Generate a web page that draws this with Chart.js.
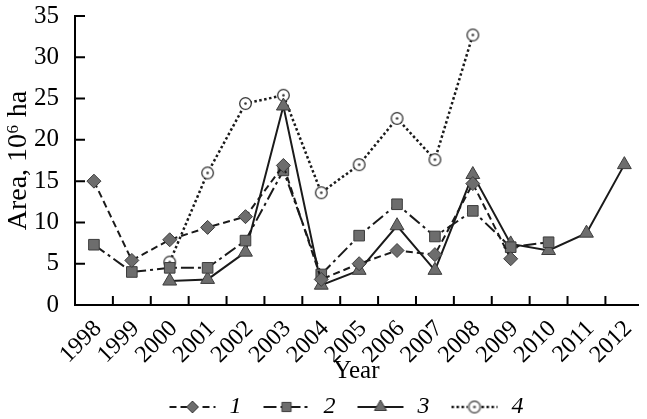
<!DOCTYPE html>
<html lang="en">
<head>
<meta charset="UTF-8">
<title>Area by year</title>
<script src="https://cdn.jsdelivr.net/npm/chart.js"></script>
<style>
  html, body { margin: 0; padding: 0; background: #fff; }
  #wrap { width: 647px; height: 419px; }
</style>
</head>
<body>
<div id="wrap"><canvas id="areaChart" width="647" height="419"></canvas></div>
<script>
// values (null = no value that year)
const years   = [1998, 1999, 2000, 2001, 2002, 2003, 2004, 2005, 2006, 2007, 2008, 2009, 2010, 2011, 2012];
const series1 = [15.0, 5.4, 7.9, 9.4, 10.7, 16.9, 3.1, 5.0, 6.6, 6.1, 14.7, 5.6, null, null, null];
const series2 = [7.3, 4.0, 4.5, 4.5, 7.8, 16.3, 3.7, 8.4, 12.2, 8.3, 11.4, 7.0, 7.6, null, null];
const series3 = [null, null, 2.9, 3.1, 6.4, 24.1, 2.4, 4.2, 9.6, 4.2, 15.8, 7.4, 6.6, 8.7, 17.0];
const series4 = [null, null, 5.2, 16.0, 24.4, 25.4, 13.6, 17.0, 22.6, 17.6, 32.7, null, null, null, null];
const seriesNames = ['1', '2', '3', '4'];
const yTicks = [0, 5, 10, 15, 20, 25, 30, 35];

const FONT = "'Liberation Serif', 'Times New Roman', serif";
const LINE = '#1a1a1a';
const FILL = '#6d6d6d';
const EDGE = '#3c3c3c';

function toPoints(values) {
    return years.map((yr, i) => ({ x: yr, y: values[i] })).filter(p => p.y !== null);
}

// circle with a dot in the middle, used for series 4
function ringMarker() {
    const c = document.createElement('canvas');
    c.width = 15; c.height = 15;
    const g = c.getContext('2d');
    g.fillStyle = '#fff';
    g.strokeStyle = '#333';
    g.lineWidth = 1.3;
    g.beginPath(); g.arc(7.5, 7.5, 5.8, 0, Math.PI * 2); g.fill(); g.stroke();
    g.fillStyle = '#333';
    g.beginPath(); g.arc(7.5, 7.5, 1.3, 0, Math.PI * 2); g.fill();
    return c;
}
const ring = ringMarker();

const styles = [
    { dash: [7, 4], width: 2, point: 'rectRot', radius: 7 },
    { dash: [13, 4, 3, 4], width: 2, point: 'rect', radius: 7.5 },
    { dash: [], width: 2, point: 'triangle', radius: 8 },
    { dash: [2.5, 2.5], width: 2.5, point: ring, radius: 6 }
];

// line + marker swatch for the legend (blank strip on the left spaces the items)
const SWATCH_W = 66, SWATCH_GAP = 18;
function legendSwatch(st) {
    const c = document.createElement('canvas');
    c.width = SWATCH_W; c.height = 18;
    const g = c.getContext('2d');
    const x0 = SWATCH_GAP, x1 = SWATCH_W - 2, mid = (x0 + x1) / 2;
    g.strokeStyle = LINE;
    g.lineWidth = st.width;
    g.setLineDash(st.dash);
    g.beginPath(); g.moveTo(x0, 9); g.lineTo(x1, 9); g.stroke();
    g.setLineDash([]);
    if (st.point === ring) {
        g.clearRect(mid - 7, 1, 14, 16);
        g.drawImage(ring, mid - 7.5, 1.5);
    } else {
        g.fillStyle = FILL;
        g.strokeStyle = EDGE;
        g.lineWidth = 1;
        Chart.helpers.drawPoint(g, { pointStyle: st.point, radius: st.radius - 1, borderWidth: 1, rotation: 0 }, mid, 9);
    }
    return c;
}

const allSeries = [series1, series2, series3, series4];
const datasets = allSeries.map((vals, i) => ({
    label: seriesNames[i],
    data: toPoints(vals),
    borderColor: LINE,
    borderWidth: styles[i].width,
    borderDash: styles[i].dash,
    borderCapStyle: 'butt',
    backgroundColor: FILL,
    pointStyle: styles[i].point,
    pointRadius: styles[i].radius,
    pointBackgroundColor: FILL,
    pointBorderColor: EDGE,
    pointBorderWidth: 1,
    tension: 0,
    fill: false
}));

// tick marks point inward from both axes
const innerTicks = {
    id: 'innerTicks',
    afterDraw(chart) {
        const { ctx, chartArea, scales: { x, y } } = chart;
        ctx.save();
        ctx.strokeStyle = '#000';
        ctx.lineWidth = 2;
        ctx.beginPath();
        years.forEach(yr => {
            const px = x.getPixelForValue(yr + 0.5);
            if (px > chartArea.right) return;
            ctx.moveTo(px, chartArea.bottom);
            ctx.lineTo(px, chartArea.bottom - 9);
        });
        yTicks.forEach(v => {
            if (v === 0) return;
            const py = y.getPixelForValue(v);
            ctx.moveTo(chartArea.left, py);
            ctx.lineTo(chartArea.left + 10, py);
        });
        ctx.stroke();
        ctx.restore();
    }
};

// the legend in the figure sits a bit right of the page centre
const legendShift = {
    id: 'legendShift',
    afterLayout(chart) {
        chart.legend.left += 14;
        chart.legend.right += 14;
    }
};

Chart.defaults.color = '#000';
Chart.defaults.font.family = FONT;

new Chart(document.getElementById('areaChart'), {
    type: 'line',
    data: { datasets: datasets },
    options: {
        responsive: false,
        animation: false,
        layout: { padding: { top: 0, right: 0, left: 0, bottom: -10 } },
        scales: {
            x: {
                type: 'linear',
                min: 1997.5,
                max: 2012.36,
                afterBuildTicks: scale => { scale.ticks = years.map(v => ({ value: v })); },
                afterFit: scale => { scale.height = 86; },
                grid: { display: false },
                border: { display: true, color: '#000', width: 2 },
                ticks: {
                    autoSkip: false,
                    minRotation: 45,
                    maxRotation: 45,
                    padding: 2,
                    labelOffset: 4,
                    font: { size: 24 },
                    callback: v => String(v)
                },
                title: { display: true, text: 'Year', font: { size: 25 }, padding: { top: 0, bottom: 5 } }
            },
            y: {
                min: 0,
                max: 35,
                afterBuildTicks: scale => { scale.ticks = yTicks.map(v => ({ value: v })); },
                afterFit: scale => { scale.width = 75; scale.paddingTop = 16; },
                grid: { display: false },
                border: { display: true, color: '#000', width: 2 },
                ticks: { padding: 8, font: { size: 25 } },
                title: { display: true, text: 'Area, 10⁶ ha', font: { size: 28 }, padding: { top: 2, bottom: 0 } }
            }
        },
        plugins: {
            tooltip: { enabled: false },
            legend: {
                position: 'bottom',
                labels: {
                    usePointStyle: true,
                    pointStyleWidth: SWATCH_W,
                    padding: 4,
                    font: { size: 24, style: 'italic' },
                    generateLabels: () => styles.map((st, i) => ({
                        text: seriesNames[i],
                        pointStyle: legendSwatch(st),
                        fillStyle: FILL,
                        strokeStyle: LINE,
                        lineWidth: 0,
                        fontColor: '#000',
                        hidden: false,
                        datasetIndex: i
                    }))
                }
            }
        }
    },
    plugins: [innerTicks, legendShift]
});
</script>
</body>
</html>
